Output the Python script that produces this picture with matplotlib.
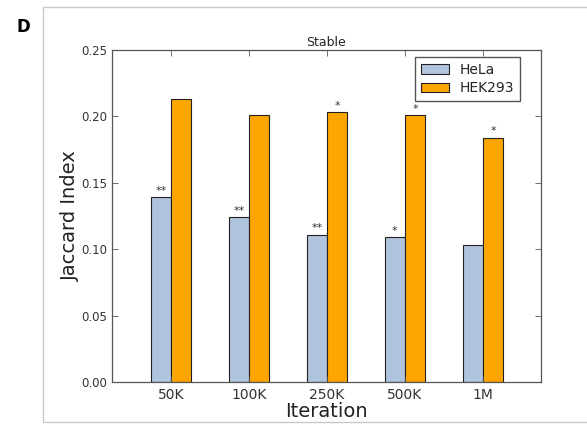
import numpy as np
import matplotlib.pyplot as plt
from matplotlib.patches import Rectangle

# Jaccard index per iteration count
iterations = ['50K', '100K', '250K', '500K', '1M']
hela = [0.139, 0.124, 0.111, 0.109, 0.103]
hek293 = [0.213, 0.201, 0.203, 0.201, 0.184]
hela_sig = ['**', '**', '**', '*', '']
hek293_sig = ['', '', '*', '*', '*']

fig = plt.figure(figsize=(5.87, 4.26), dpi=100)
ax = fig.add_axes([0.1908, 0.1033, 0.7308, 0.7793])

ind = np.arange(len(iterations))
width = 0.26
b1 = ax.bar(ind - width / 2, hela, width, color='#B0C4DE', edgecolor='#222222',
            linewidth=0.8, label='HeLa')
b2 = ax.bar(ind + width / 2, hek293, width, color='#FFA500', edgecolor='#222222',
            linewidth=0.8, label='HEK293')

for bars, sig in ((b1, hela_sig), (b2, hek293_sig)):
    for rect, s in zip(bars, sig):
        if s:
            ax.text(rect.get_x() + rect.get_width() / 2, rect.get_height() + 0.001, s,
                    ha='center', va='bottom', fontsize=8, color='#333333')

ax.set_xlim(-0.756, 4.744)
ax.set_ylim(0, 0.25)
ax.set_yticks(np.arange(0, 0.26, 0.05))
ax.set_yticklabels(['%.2f' % v for v in np.arange(0, 0.26, 0.05)])
ax.set_xticks(ind)
ax.set_xticklabels(iterations)
ax.tick_params(direction='in', top=True, right=True, labelsize=8.5, length=4, width=0.6,
               color='#555555', labelcolor='#333333')
ax.tick_params(axis='x', labelsize=10, pad=4)
for sp in ax.spines.values():
    sp.set_linewidth(0.9)
    sp.set_color('#555555')

ax.set_title('Stable', fontsize=9, pad=3, color='#222222')
ax.set_xlabel('Iteration', fontsize=14, labelpad=0, color='#222222')
ax.set_ylabel('Jaccard Index', fontsize=14, labelpad=1, color='#222222')
leg = ax.legend(loc='upper right', fontsize=10, fancybox=False, edgecolor='#555555',
                framealpha=1, borderpad=0.4, labelspacing=0.35, handlelength=2.0,
                bbox_to_anchor=(0.967, 1.0))
for t in leg.get_texts():
    t.set_color('#222222')

# panel frame and letter
fig.patches.append(Rectangle((43 / 587, 1 - 422 / 426), 0.99, 415 / 426,
                             transform=fig.transFigure, fill=False,
                             edgecolor='#c8c8c8', linewidth=1.0))
fig.text(17 / 587, 1 - 27 / 426, 'D', fontsize=12, fontweight='bold',
         ha='left', va='center')

fig.savefig('out.png', dpi=100)
